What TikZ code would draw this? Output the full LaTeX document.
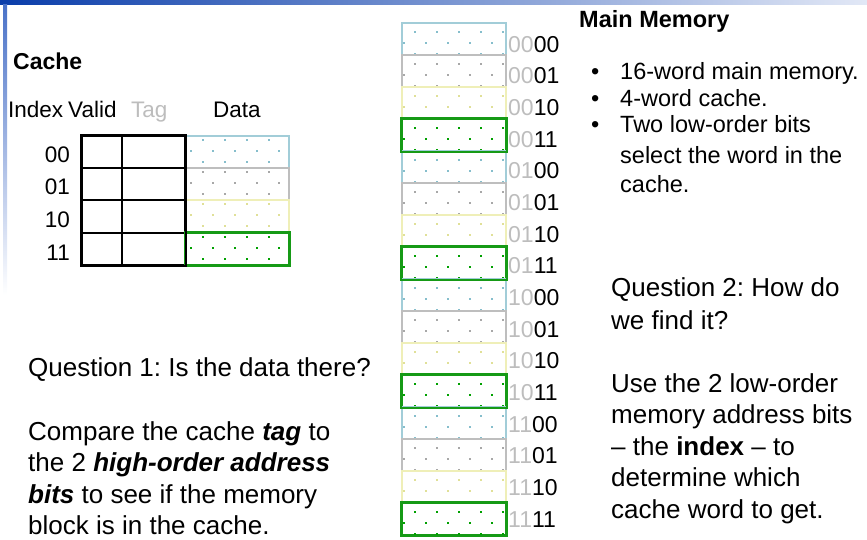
\documentclass[tikz,border=0pt]{standalone}
\usepackage{fontspec}
\setmainfont{Liberation Sans}
\frenchspacing
% row colours (by the two low-order address bits)
\definecolor{c00}{HTML}{A2CDD8}\definecolor{d00}{HTML}{86BECC}
\definecolor{c01}{HTML}{BEBEBE}\definecolor{d01}{HTML}{A8A8A8}
\definecolor{c10}{HTML}{EFEFB8}\definecolor{d10}{HTML}{E0E098}
\definecolor{c11}{HTML}{169A16}\definecolor{d11}{HTML}{00A000}
\definecolor{addrGray}{HTML}{BDBDBD}
\definecolor{barL}{HTML}{0A3DAA}
\definecolor{barR}{HTML}{E2E8F6}
\definecolor{sideT}{HTML}{4A72C8}
% dotted fill of a cell: x0, y0 (top left), colour, first row offset, A offset, B offset
\newcommand\celldots[6]{%
  \foreach \r/\s in {0/#5,1/#6,2/#5}{%
    \foreach \k in {0,...,4}{%
      \pgfmathsetmacro\dx{#1+\s+22*\k}%
      \pgfmathsetmacro\dy{#2+#4+11*\r}%
      \ifdim\dx pt<\numexpr#1+104\relax pt
        \fill[#3] (\dx-1,\dy-1) rectangle (\dx+1,\dy+1);
      \fi
    }%
  }%
}
\begin{document}
\begin{tikzpicture}[x=1pt,y=-1pt,
  txt/.style={inner sep=0pt, anchor=base west},
  bigtxt/.style={txt, font=\fontsize{26}{31}\selectfont},
  midtxt/.style={txt, font=\fontsize{23.5}{28}\selectfont},
  hdrtxt/.style={txt, font=\fontsize{22.5}{27}\selectfont},
  addrtxt/.style={txt, font=\fontsize{23}{27}\selectfont},
  memcell/.style={rectangle, minimum width=104pt, minimum height=32pt, inner sep=0pt, line width=2pt},
  tagcell/.style={rectangle, draw=black, line width=2pt, inner sep=0pt, minimum height=32.2pt},
  datacell/.style={rectangle, line width=2pt, inner sep=0pt, minimum width=103pt, minimum height=32.2pt}]
\useasboundingbox (0,0) rectangle (867,539);

% slide decoration bars
\shade[left color=barL, right color=barR] (0,0) rectangle (867,4.5);
\shade[top color=sideT, bottom color=white] (3,4.5) rectangle (7,295);

% ---------- main memory ----------
\foreach \i/\hi/\lo in {0/00/00,1/00/01,2/00/10,3/00/11,4/01/00,5/01/01,6/01/10,7/01/11,
                        8/10/00,9/10/01,10/10/10,11/10/11,12/11/00,13/11/01,14/11/10,15/11/11}{
  \pgfmathsetmacro\yc{38.5+32*\i}
  \pgfmathsetmacro\yt{22.5+32*\i}
  \node[memcell, draw=c\lo] (mem\hi\lo) at (454,\yc) {};
  \celldots{402}{\yt}{d\lo}{9}{13}{2}
  \pgfmathsetmacro\yb{52+31.67*\i}
  \node[addrtxt] (addr\hi\lo) at (508,\yb) {\textcolor{addrGray}{\hi}\lo};
}
% green rows on top of their neighbours
\foreach \hi in {00,01,10,11}{
  \draw[c11, line width=2pt] (mem\hi11.north west) rectangle (mem\hi11.south east);
}

% ---------- cache ----------
\node[midtxt, font=\fontsize{23}{28}\selectfont\bfseries] (cachettl) at (13,69) {Cache};
\node[hdrtxt] (hIndex) at (8,117) {Index};
\node[hdrtxt] (hValid) at (68,117) {Valid};
\node[hdrtxt, text=addrGray] (hTag) at (131,117) {Tag};
\node[hdrtxt] (hData) at (213,117) {Data};

\foreach \i/\b in {0/00,1/01,2/10,3/11}{
  \pgfmathsetmacro\yc{152.1+32.2*\i}
  \pgfmathsetmacro\yt{136+32.2*\i}
  \node[tagcell, minimum width=40pt] (valid\b) at (102,\yc) {};
  \node[tagcell, minimum width=63pt] (tag\b) at (153.5,\yc) {};
  \node[datacell, draw=c\b] (data\b) at (237.5,\yc) {};
  \celldots{186}{\yt}{d\b}{4}{17}{5}
  \pgfmathsetmacro\yb{162+32.7*\i}
  \node[hdrtxt, anchor=base east] (idx\b) at (70,\yb) {\b};
}
\draw[c11, line width=2pt] (data11.north west) rectangle (data11.south east);
\draw[black, line width=2pt] (valid00.north west) rectangle (tag11.south east);

% ---------- main memory notes ----------
\node[midtxt, font=\fontsize{23.5}{28}\selectfont\bfseries] (memttl) at (579,27) {Main Memory};
\node[midtxt] (bul1) at (591,79) {•};
\node[midtxt] (bul2) at (591,106) {•};
\node[midtxt] (bul3) at (591,132) {•};
\node[midtxt] (note1) at (620,79) {16-word main memory.};
\node[midtxt] (note2) at (620,106) {4-word cache.};
\node[midtxt] (note3) at (620,132) {Two low-order bits};
\node[midtxt] (note4) at (620,163) {select the word in the};
\node[midtxt] (note5) at (620,192) {cache.};

% ---------- questions ----------
\node[bigtxt] (q1a) at (28,376) {Question 1: Is the data there?};
\node[bigtxt] (q1b) at (28,440) {Compare the cache \textbf{\textit{tag}} to};
\node[bigtxt] (q1c) at (28,471) {the 2 \textbf{\textit{high-order address}}};
\node[bigtxt] (q1d) at (28,503) {\textbf{\textit{bits}} to see if the memory};
\node[bigtxt] (q1e) at (28,534) {block is in the cache.};

\node[bigtxt] (q2a) at (611,296) {Question 2: How do};
\node[bigtxt] (q2b) at (611,329) {we find it?};
\node[bigtxt] (q2c) at (611,392) {Use the 2 low-order};
\node[bigtxt] (q2d) at (611,423) {memory address bits};
\node[bigtxt] (q2e) at (611,455) {– the \textbf{index} – to};
\node[bigtxt] (q2f) at (611,486) {determine which};
\node[bigtxt] (q2g) at (611,518) {cache word to get.};
\end{tikzpicture}
\end{document}
